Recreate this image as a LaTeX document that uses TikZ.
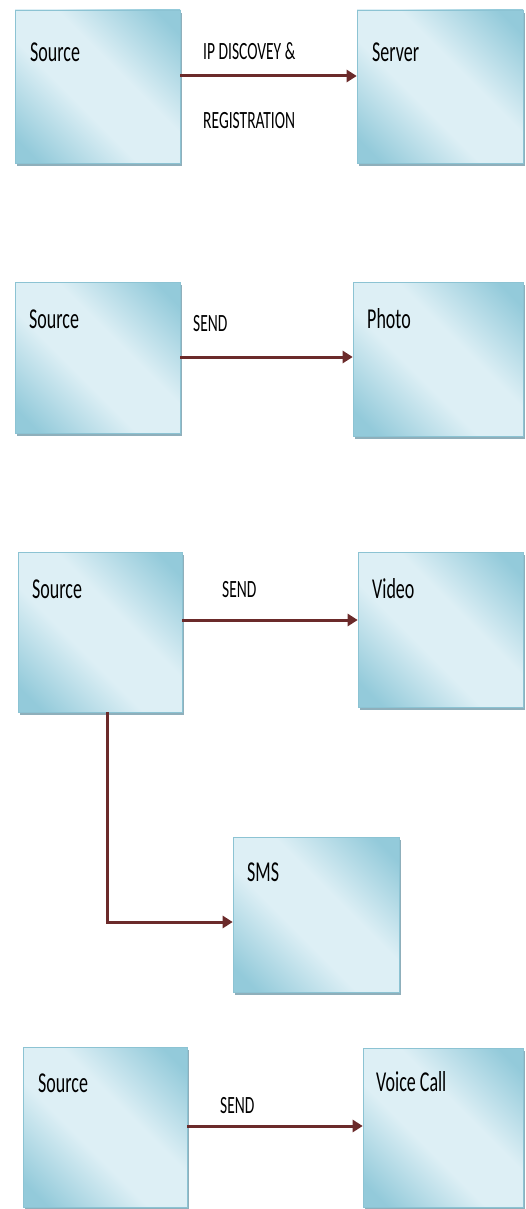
\documentclass[tikz,border=0pt]{standalone}
\usepackage{fontspec}
\setmainfont{Carlito}
\usetikzlibrary{arrows.meta,shadows}
\definecolor{boxdark}{HTML}{93CADA}
\definecolor{boxlight}{HTML}{DDEFF5}
\definecolor{boxline}{HTML}{8CC3D3}
\definecolor{shadowc}{HTML}{8FAFBB}
\definecolor{arrowc}{HTML}{6B2A2A}
\pgfdeclareverticalshading{diagband}{100bp}{color(0bp)=(boxdark); color(20bp)=(boxdark); color(42bp)=(boxlight); color(58bp)=(boxlight); color(80bp)=(boxdark); color(100bp)=(boxdark)}
\newcommand{\tall}[1]{\scalebox{1}[1.6]{#1}}
\tikzset{
  x=1pt, y=-1pt,
  bluebox/.style={draw=boxline, line width=0.6pt, shading=diagband,
    shading angle=-45, inner sep=0pt,
    drop shadow={shadow xshift=1.5pt, shadow yshift=-3pt, fill=shadowc, opacity=1}},
  boxtext/.style={anchor=west, inner sep=0pt, font=\fontsize{18}{20}\selectfont},
  lbltext/.style={anchor=west, inner sep=0pt, font=\fontsize{15.5}{18}\selectfont},
  arr/.style={draw=arrowc, line width=3pt, -{Triangle[length=10pt,width=12pt]}}
}
\begin{document}
\begin{tikzpicture}
\useasboundingbox (0,0) rectangle (526,1209);
% row 1
\node[bluebox, minimum width=165pt, minimum height=153pt] (src1) at (97.5,86.5) {};
\node[bluebox, minimum width=166pt, minimum height=153pt] (srv) at (440,86.5) {};
\node[boxtext] (t1) at (30,52) {\tall{Source}};
\node[boxtext] (t2) at (372,52) {\tall{Server}};
\node[lbltext] (l1) at (203,51) {\tall{IP DISCOVEY \&}};
\node[lbltext] (l2) at (203,121) {\tall{REGISTRATION}};
\coordinate (a1) at (0,76);
\draw[arr] (src1.east |- a1) -- (srv.west |- a1);
% row 2
\node[bluebox, minimum width=165pt, minimum height=151pt] (src2) at (97.5,357.5) {};
\node[bluebox, minimum width=170pt, minimum height=154pt] (pho) at (438,359) {};
\node[boxtext] (t3) at (29,319) {\tall{Source}};
\node[boxtext] (t4) at (367,319) {\tall{Photo}};
\node[lbltext] (l3) at (193,324) {\tall{SEND}};
\coordinate (a2) at (0,357);
\draw[arr] (src2.east |- a2) -- (pho.west |- a2);
% row 3
\node[bluebox, minimum width=164pt, minimum height=160pt] (src3) at (100,632) {};
\node[bluebox, minimum width=165pt, minimum height=155pt] (vid) at (440.5,629.5) {};
\node[bluebox, minimum width=166pt, minimum height=155pt] (sms) at (316,914.5) {};
\node[boxtext] (t5) at (32,589) {\tall{Source}};
\node[boxtext] (t6) at (372,589) {\tall{Video}};
\node[boxtext] (t7) at (247,872) {\tall{SMS}};
\node[lbltext] (l4) at (222,590) {\tall{SEND}};
\coordinate (a3) at (0,620);
\draw[arr] (src3.east |- a3) -- (vid.west |- a3);
\coordinate (v) at (107,922);
\draw[arr] (src3.south -| v) -- (v) -- (sms.west |- v);
% row 4
\node[bluebox, minimum width=164pt, minimum height=160pt] (src4) at (105,1127) {};
\node[bluebox, minimum width=160pt, minimum height=159pt] (voc) at (443,1127.5) {};
\node[boxtext] (t8) at (38,1083) {\tall{Source}};
\node[boxtext] (t9) at (376,1082) {\tall{Voice Call}};
\node[lbltext] (l5) at (220,1106) {\tall{SEND}};
\coordinate (a4) at (0,1126);
\draw[arr] (src4.east |- a4) -- (voc.west |- a4);
\end{tikzpicture}
\end{document}
